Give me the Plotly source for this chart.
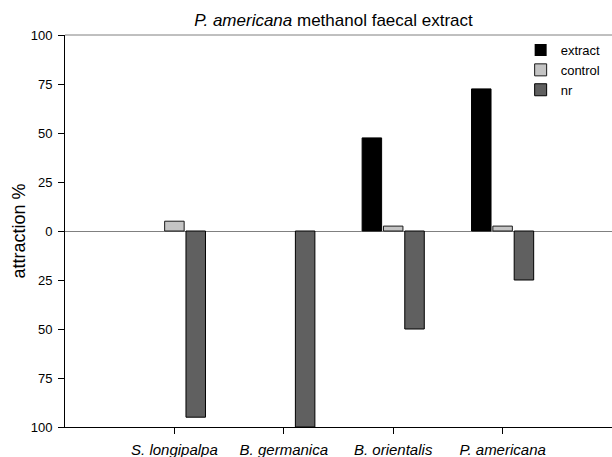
import plotly.graph_objects as go

categories = ["S. longipalpa", "B. germanica", "B. orientalis", "P. americana"]
cat_pos = [1, 2, 3, 4]
extract = [0, 0, 47.5, 72.5]
control = [5, 0, 2.5, 2.5]
nr = [-95, -100, -50, -25]   # plotted downward (no response)
y_ticks = [-100, -75, -50, -25, 0, 25, 50, 75, 100]
y_tick_labels = [str(abs(v)) for v in y_ticks]

FONT = "Liberation Sans, Arial, sans-serif"


def outline(values):
    # no outline on empty (zero-height) bars
    return [0 if v == 0 else 1 for v in values]


fig = go.Figure()
fig.add_trace(go.Bar(name="extract", x=cat_pos, y=extract,
                     marker=dict(color="#000000",
                                 line=dict(color="#000000", width=outline(extract)))))
fig.add_trace(go.Bar(name="control", x=cat_pos, y=control,
                     marker=dict(color="#c4c4c4",
                                 line=dict(color="#1a1a1a", width=outline(control)))))
fig.add_trace(go.Bar(name="nr", x=cat_pos, y=nr,
                     marker=dict(color="#606060",
                                 line=dict(color="#000000", width=outline(nr)))))

fig.update_layout(
    width=612, height=457,
    margin=dict(l=65, r=0, t=35, b=30, autoexpand=False),
    paper_bgcolor="white", plot_bgcolor="white",
    barmode="group", bargap=0.415, bargroupgap=0.086,
    font=dict(family=FONT, size=13, color="black"),
    title=dict(text="<i>P. americana</i> methanol faecal extract",
               x=0.545, xref="container", xanchor="center",
               y=1 - 14 / 457, yref="container", yanchor="top",
               automargin=False,
               font=dict(size=17, family=FONT, color="black")),
    legend=dict(x=0.833, xanchor="left", y=1.0, yanchor="top",
                bgcolor="rgba(0,0,0,0)", font=dict(size=13, family=FONT),
                tracegroupgap=0),
    showlegend=True,
)

fig.update_xaxes(range=[0, 5], tickvals=cat_pos, ticktext=categories,
                 tickfont=dict(size=15, style="italic", family=FONT),
                 showline=True, linecolor="black", linewidth=1,
                 ticks="outside", ticklen=6, tickcolor="black",
                 ticklabelstandoff=3,
                 automargin=False,
                 showgrid=False, zeroline=False)

fig.update_yaxes(range=[-100, 100], tickvals=y_ticks, ticktext=y_tick_labels,
                 tickfont=dict(size=13, family=FONT),
                 showline=True, linecolor="black", linewidth=1,
                 ticks="outside", ticklen=6, tickcolor="black",
                 ticklabelstandoff=3,
                 automargin=False,
                 showgrid=False, zeroline=True, zerolinecolor="#808080",
                 zerolinewidth=1,
                 title=dict(text="attraction %", font=dict(size=18, family=FONT),
                            standoff=0))

# top frame line (gray), as in the original
fig.add_shape(type="line", xref="paper", yref="paper", x0=0, x1=1, y0=1, y1=1,
              line=dict(color="#808080", width=1))

fig.write_html("out.html", config={"displayModeBar": False},
               post_script="document.body.style.margin='0px';")
